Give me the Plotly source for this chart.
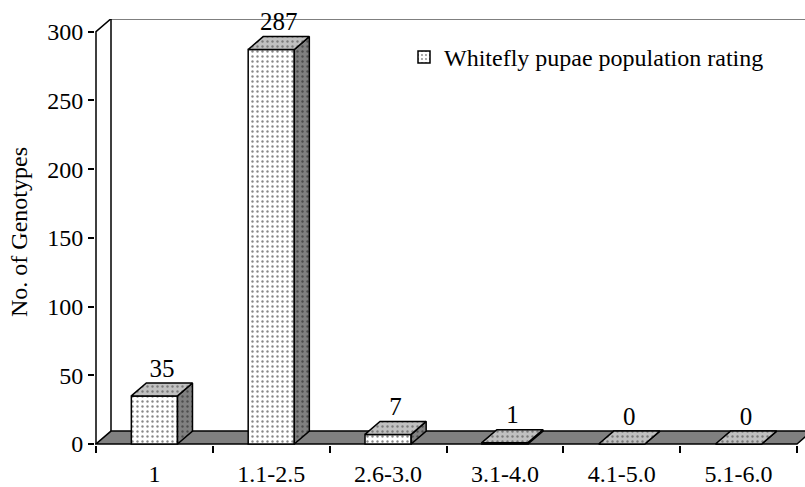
import plotly.graph_objects as go

# ---- data ----
categories = ["1", "1.1-2.5", "2.6-3.0", "3.1-4.0", "4.1-5.0", "5.1-6.0"]
genotypes = [35, 287, 7, 1, 0, 0]
y_tick_values = [0, 50, 100, 150, 200, 250, 300]
series_name = "Whitefly pupae population rating"
y_title = "No. of Genotypes"

# ---- geometry / style ----
W, H = 805, 487
ML, MR, MT, MB = 95, 0, 19, 40
FONT = "Liberation Serif, Times New Roman, serif"
Y_TOP = 300
n = len(categories)
x_lo, x_hi = -0.5, n - 0.5
plot_w = W - ML - MR
plot_h = H - MT - MB
# x range: 1px left of the front axis, 8px of depth on the right
px_per_cat = (plot_w - 9) / n
x_range = [x_lo - 1 / px_per_cat, x_hi + 8 / px_per_cat]
px_per_y = (plot_h - 1 - 12.7) / Y_TOP
y_range = [-1 / px_per_y, (plot_h - 1) / px_per_y]
DX = 15 / px_per_cat
DY = 13 / px_per_y
BAR_W = 0.395
xpos = list(range(n))

DOTS_W = dict(shape=".", fgcolor="#111111", bgcolor="white", size=5, solidity=0.18)
FLOOR = "#808080"
TOP_C = "#c0c0c0"
SIDE_C = "#808080"

fig = go.Figure()

# floor and walls (below traces)
fig.add_shape(type="path", xref="x", yref="y", layer="below",
              path=f"M{x_lo},0 L{x_hi},0 L{x_hi + DX},{DY} L{x_lo + DX},{DY} Z",
              fillcolor=FLOOR, line=dict(color="black", width=1.5))
fig.add_shape(type="path", xref="x", yref="y", layer="below",
              path=f"M{x_lo + DX},{DY} L{x_lo + DX},{Y_TOP + DY} L{x_hi + 2 * DX},{Y_TOP + DY}",
              line=dict(color="black", width=1.5))
fig.add_shape(type="path", xref="x", yref="y", layer="below",
              path=f"M{x_lo},0 L{x_lo},{Y_TOP} L{x_lo + DX},{Y_TOP + DY}",
              line=dict(color="black", width=1.5))

# front faces
fig.add_trace(go.Bar(
    x=xpos, y=genotypes, width=BAR_W, name=series_name, showlegend=True,
    marker=dict(color="white", line=dict(color="black", width=1.5), pattern=DOTS_W),
    hoverinfo="skip"))

# side and top faces
for xi, v in zip(xpos, genotypes):
    l, r = xi - BAR_W / 2, xi + BAR_W / 2
    fig.add_trace(go.Scatter(
        x=[r, r + DX, r + DX, r, r], y=[0, DY, v + DY, v, 0],
        mode="lines", fill="toself", fillcolor=SIDE_C,
        fillpattern=dict(shape=".", fgcolor="#1a1a1a", bgcolor=SIDE_C, size=5, solidity=0.18),
        line=dict(color="black", width=1.5), showlegend=False, hoverinfo="skip"))
    fig.add_trace(go.Scatter(
        x=[l, r, r + DX, l + DX, l], y=[v, v, v + DY, v + DY, v],
        mode="lines", fill="toself", fillcolor=TOP_C,
        fillpattern=dict(shape=".", fgcolor="#333333", bgcolor=TOP_C, size=5, solidity=0.18),
        line=dict(color="black", width=1.5), showlegend=False, hoverinfo="skip"))

# value labels
fig.add_trace(go.Scatter(
    x=[xi + DX / 2 for xi in xpos], y=[v + DY for v in genotypes],
    text=[str(v) for v in genotypes], mode="text", textposition="top center",
    textfont=dict(family=FONT, size=25, color="black"),
    cliponaxis=False, showlegend=False, hoverinfo="skip"))

fig.update_layout(
    width=W, height=H,
    margin=dict(l=ML, r=MR, t=MT, b=MB),
    paper_bgcolor="white", plot_bgcolor="white",
    font=dict(family=FONT, size=24, color="black"),
    showlegend=True,
    legend=dict(x=(404 - ML) / plot_w, xanchor="left", y=(H - MB - 35) / plot_h, yanchor="top",
                bgcolor="rgba(0,0,0,0)", font=dict(family=FONT, size=24, color="black")),
    xaxis=dict(range=x_range, tickmode="array", tickvals=xpos, ticktext=categories,
               ticks="outside", ticklen=7, tickcolor="rgba(0,0,0,0)",
               minor=dict(tickmode="array", tickvals=[i - 0.5 for i in range(n + 1)],
                          ticks="outside", ticklen=7, tickwidth=1.5, tickcolor="black"),
               showgrid=False, zeroline=False, showline=False,
               tickfont=dict(family=FONT, size=24, color="black")),
    yaxis=dict(range=y_range, tickmode="array", tickvals=y_tick_values,
               ticks="outside", ticklen=6, tickwidth=1.5, tickcolor="black",
               showgrid=False, zeroline=False, showline=False,
               tickfont=dict(family=FONT, size=24, color="black"),
               title=dict(text=y_title, font=dict(family=FONT, size=24, color="black"), standoff=12)),
)

fig.write_html("out.html")
